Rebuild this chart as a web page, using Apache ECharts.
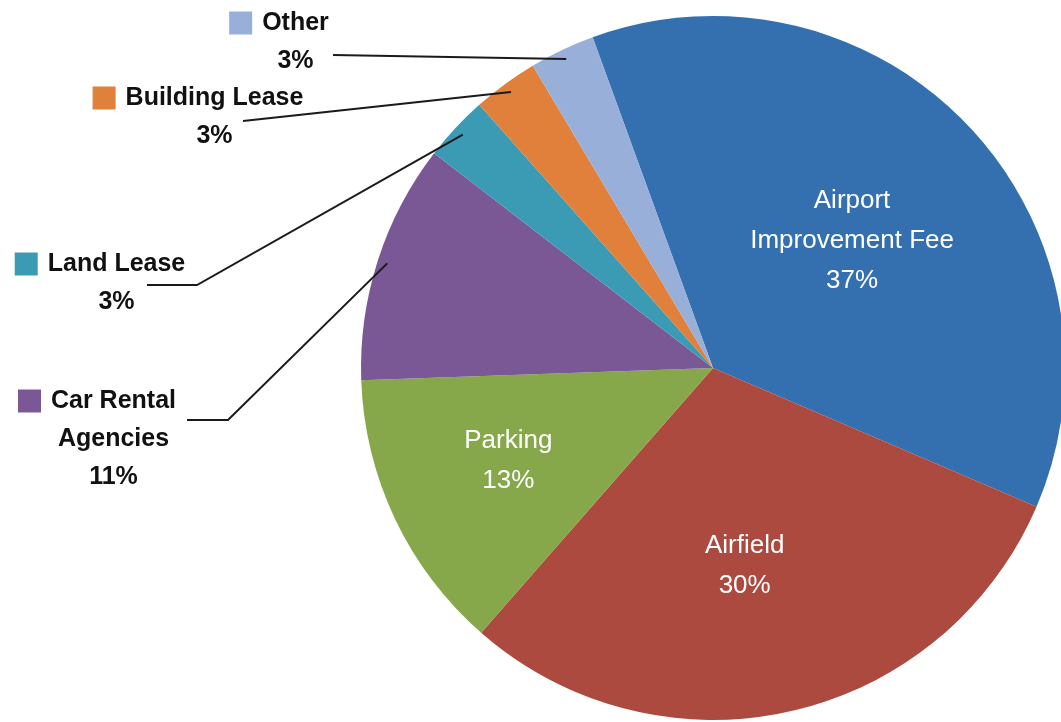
<!DOCTYPE html>
<html><head><meta charset="utf-8">
<script src="https://cdn.jsdelivr.net/npm/echarts@6/dist/echarts.min.js"></script>
<style>html,body{margin:0;padding:0;background:#fff}#c{width:1061px;height:722px}</style>
</head><body><div id="c"></div>
<script>
// ---- data ----
const categories = ['Airport Improvement Fee', 'Airfield', 'Parking', 'Car Rental Agencies', 'Land Lease', 'Building Lease', 'Other'];
const labelNames = ['Airport\nImprovement Fee', 'Airfield', 'Parking', 'Car Rental\nAgencies', 'Land Lease', 'Building Lease', 'Other'];
const values = [37, 30, 13, 11, 3, 3, 3];
const colors = ['#3470b0', '#ad4a3f', '#86a84a', '#7a5896', '#3b9bb4', '#e0803b', '#98afda'];

// ---- layout (label placement only) ----
const pieCenter = [713, 368];
const pieRadius = 352;
const startAngle = 110;
const innerShift = { 0: [9, -4], 1: [-8, 23], 2: [-43, 16] };
// kink: elbow point (null = straight line), end: line end near the label
const outerPos = {
  3: { x: 97, y: 439, kink: [228, 420], end: [187, 420] },
  4: { x: 100, y: 283, kink: [197, 285], end: [147, 285] },
  5: { x: 198, y: 117, kink: null, end: [243, 121] },
  6: { x: 279, y: 42, kink: null, end: [333, 55] }
};

const total = values.reduce((a, b) => a + b, 0);
function edgePoint(i, f) {
  let cum = 0;
  for (let k = 0; k < i; k++) cum += values[k];
  const a = (startAngle - 360 * (cum + values[i] / 2) / total) * Math.PI / 180;
  return [pieCenter[0] + pieRadius * f * Math.cos(a), pieCenter[1] - pieRadius * f * Math.sin(a)];
}

function outerText(i) {
  const lines = labelNames[i].split('\n');
  let s = '{sq|}{nm|' + lines[0] + '}';
  for (let k = 1; k < lines.length; k++) s += '\n{sp|}{nm|' + lines[k] + '}';
  s += '\n{sp|}{nm|' + values[i] + '%}';
  return s;
}

const sliceData = categories.map((c, i) => ({ name: c, value: values[i], itemStyle: { color: colors[i] } }));

const labelData = categories.map((c, i) => {
  const item = { name: c, value: values[i], itemStyle: { color: 'rgba(0,0,0,0)' } };
  if (outerPos[i]) {
    item.label = {
      position: 'outside',
      formatter: outerText(i),
      rich: {
        sq: { width: 23, height: 23, backgroundColor: colors[i] },
        sp: { width: 23, height: 23 },
        nm: { fontFamily: 'Liberation Sans', fontWeight: 'bold', fontSize: 25, color: '#111', padding: [0, 0, 0, 10], lineHeight: 38 }
      }
    };
    item.labelLine = { show: true, lineStyle: { color: '#1a1a1a', width: 2 } };
  } else {
    item.label = {
      position: 'inside',
      formatter: labelNames[i] + '\n' + values[i] + '%',
      color: '#fff',
      fontFamily: 'Liberation Sans',
      fontSize: 26,
      lineHeight: 40,
      align: 'center'
    };
    item.labelLine = { show: false };
  }
  return item;
});

const chart = echarts.init(document.getElementById('c'));
chart.setOption({
  animation: false,
  series: [{
    type: 'pie',
    z: 2,
    center: pieCenter,
    radius: pieRadius,
    startAngle: startAngle,
    clockwise: true,
    silent: true,
    emphasis: { disabled: true },
    itemStyle: { borderWidth: 0 },
    label: { show: false },
    labelLine: { show: false },
    data: sliceData
  }, {
    type: 'pie',
    z: 5,
    center: pieCenter,
    radius: pieRadius,
    startAngle: startAngle,
    clockwise: true,
    silent: true,
    avoidLabelOverlap: false,
    emphasis: { disabled: true },
    itemStyle: { borderWidth: 0 },
    data: labelData,
    labelLayout: function (p) {
      const i = p.dataIndex;
      if (innerShift[i]) return { dx: innerShift[i][0], dy: innerShift[i][1] };
      const o = outerPos[i];
      if (o) {
        const start = edgePoint(i, 0.972);
        const mid = o.kink || [(start[0] + o.end[0]) / 2, (start[1] + o.end[1]) / 2];
        return {
          x: o.x, y: o.y, align: 'center', verticalAlign: 'middle',
          labelLinePoints: [start, mid, o.end]
        };
      }
    }
  }]
});
</script>
</body></html>
